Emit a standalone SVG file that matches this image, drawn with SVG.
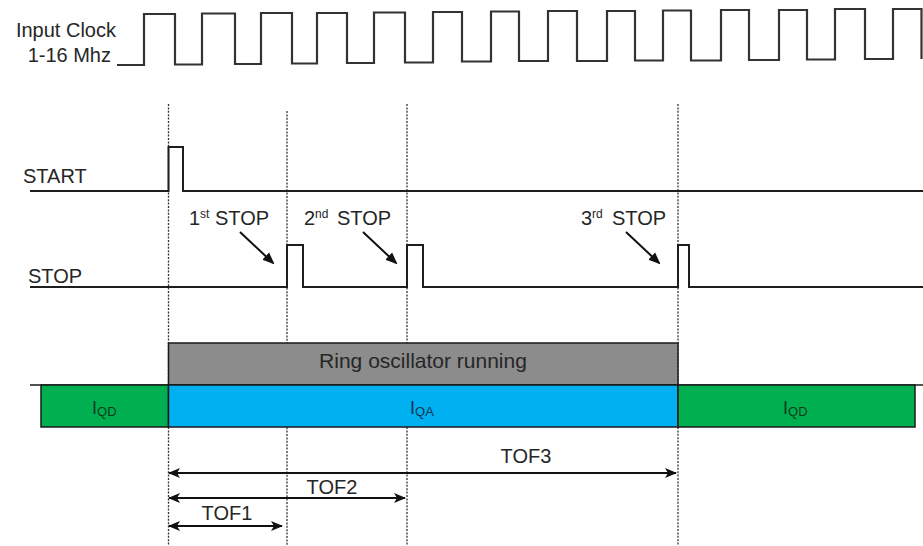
<svg xmlns="http://www.w3.org/2000/svg" width="923" height="546" viewBox="0 0 923 546">
<style>
text{font-family:"Liberation Sans",Arial,sans-serif;fill:#262626}
.lbl{font-size:20px}
.sig{fill:none;stroke:#1e1e1e;stroke-width:2}
.clk{fill:none;stroke:#333;stroke-width:2.2}
.dash{stroke:#333;stroke-width:1.3;stroke-dasharray:2,1.4;fill:none}
.arr{stroke:#111;stroke-width:2;fill:none}
.box{stroke:#1a1a1a;stroke-width:1.5}
</style>
<defs>
<marker id="ah" markerWidth="12" markerHeight="10" refX="11" refY="5" orient="auto-start-reverse" markerUnits="userSpaceOnUse">
<path d="M0,0 L12,5 L0,10 L3,5 Z" fill="#111"/>
</marker>
<marker id="sa" markerWidth="12" markerHeight="12" refX="10" refY="6" orient="auto" markerUnits="userSpaceOnUse">
<path d="M0,1 L12,6 L0,11 Z" fill="#111"/>
</marker>
</defs>

<g id="clock">
<text class="lbl" x="116" y="37" text-anchor="end" font-size="20.5">Input Clock</text>
<text class="lbl" x="111" y="62" text-anchor="end" font-size="20.5">1-16 Mhz</text>
<path class="clk" d="M117,65 H144 V14 H175 V64.5 H202 V13.5 H235 V64 H261 V13 H292 V63.5 H317 V13 H347 V63 H374 V12.5 H405 V62.5 H433 V12 H462 V61.5 H491 V11.5 H519 V61 H548 V11 H577 V61 H607 V11 H635 V60.5 H663 V10.5 H691 V60.5 H721 V10 H749 V60 H779 V10 H807 V59.5 H835 V9 H865 V59 H893 V9 H921.5 V59"/>
</g>

<g id="guides">
<line class="dash" x1="168.5" y1="104" x2="168.5" y2="546"/>
<line class="dash" x1="287" y1="111" x2="287" y2="546"/>
<line class="dash" x1="407" y1="104" x2="407" y2="546"/>
<line class="dash" x1="678" y1="104" x2="678" y2="546"/>
</g>

<g id="start">
<text class="lbl" x="23" y="183">START</text>
<path class="sig" d="M30,191 H168.5 V147 H183 V191 H923"/>
</g>

<g id="stop">
<text class="lbl" x="28" y="283">STOP</text>
<path class="sig" d="M30,287 H287 V245 H303 V287 H407 V245 H423 V287 H678 V245 H689 V287 H923"/>
</g>

<g id="stop-labels">
<text class="lbl" y="225"><tspan x="189">1</tspan><tspan x="200" y="218" font-size="12">st</tspan><tspan x="215" y="225">STOP</tspan></text>
<text class="lbl" y="225"><tspan x="304">2</tspan><tspan x="315" y="218" font-size="12">nd</tspan><tspan x="337" y="225">STOP</tspan></text>
<text class="lbl" y="225"><tspan x="581">3</tspan><tspan x="592" y="218" font-size="12">rd</tspan><tspan x="612" y="225">STOP</tspan></text>
</g>

<g id="connectors">
<line class="arr" x1="240" y1="232" x2="273" y2="263" marker-end="url(#sa)"/>
<line class="arr" x1="363" y1="232" x2="396" y2="263" marker-end="url(#sa)"/>
<line class="arr" x1="626" y1="232" x2="659" y2="263" marker-end="url(#sa)"/>
<line class="arr" x1="169" y1="473" x2="676" y2="473" marker-start="url(#ah)" marker-end="url(#ah)"/>
<line class="arr" x1="169" y1="498" x2="405" y2="498" marker-start="url(#ah)" marker-end="url(#ah)"/>
<line class="arr" x1="169" y1="526" x2="282" y2="526" marker-start="url(#ah)" marker-end="url(#ah)"/>
</g>

<g id="ring-osc">
<rect class="box" x="168.5" y="343" width="509.5" height="42" fill="#8c8c8c"/>
<text x="423" y="368" text-anchor="middle" font-size="21">Ring oscillator running</text>
</g>

<g id="current">
<line stroke="#1a1a1a" stroke-width="1.5" x1="30" y1="385" x2="923" y2="385"/>
<rect class="box" x="41" y="385" width="127.5" height="42" fill="#00b050"/>
<rect class="box" x="168.5" y="385" width="509.5" height="42" fill="#00b0f0"/>
<rect class="box" x="678" y="385" width="237" height="42" fill="#00b050"/>
<text x="92" y="414" font-size="18" style="fill:#123a1c">I<tspan font-size="13" dy="2">QD</tspan></text>
<text x="410" y="414" font-size="18" style="fill:#0d3550">I<tspan font-size="13" dy="2">QA</tspan></text>
<text x="783" y="414" font-size="18" style="fill:#123a1c">I<tspan font-size="13" dy="2">QD</tspan></text>
</g>

<g id="tof-labels">
<text class="lbl" x="526" y="463" text-anchor="middle">TOF3</text>
<text class="lbl" x="332" y="494" text-anchor="middle">TOF2</text>
<text class="lbl" x="227" y="520" text-anchor="middle">TOF1</text>
</g>
</svg>
